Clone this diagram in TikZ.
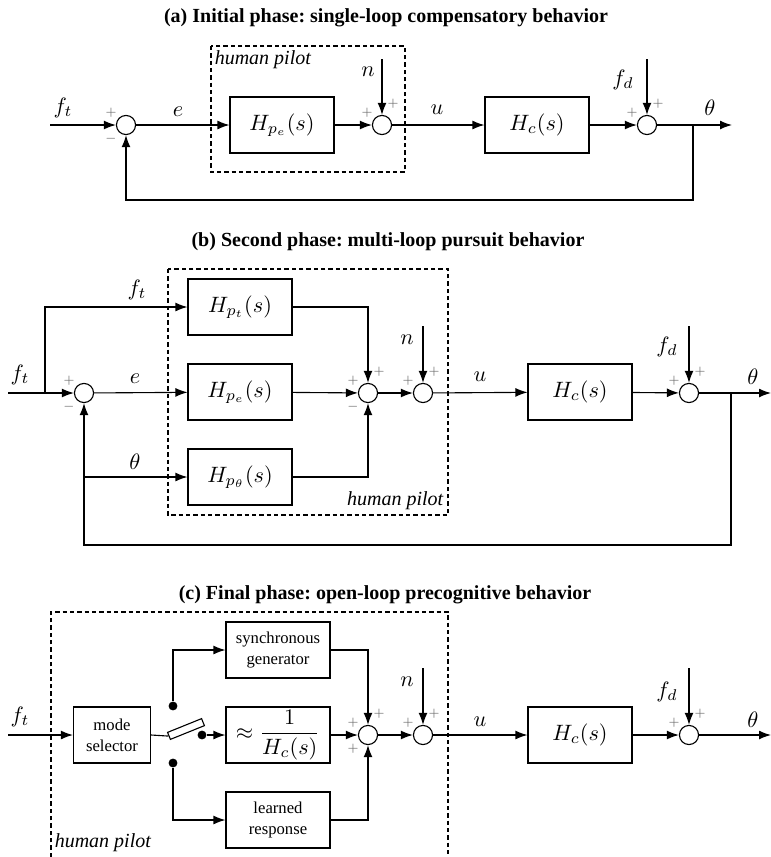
\documentclass[tikz,border=0pt]{standalone}
\usepackage{amsmath}
\usepackage{fontspec}
\newfontfamily\tnr{Liberation Serif}
\usetikzlibrary{arrows.meta,positioning,shapes}

\begin{document}
\begin{tikzpicture}[
    x=0.45pt, y=-0.45pt, line width=0.5pt,
    box/.style={rectangle, draw, minimum width=46.8pt, minimum height=25.2pt, inner sep=1pt, align=center},
    small/.style={font=\tnr\fontsize{7.5}{9.5}\selectfont},
    sum/.style={circle, draw, fill=white, minimum size=8.6pt, inner sep=0pt},
    dot/.style={circle, fill, minimum size=4pt, inner sep=0pt},
    arrow/.style={-{Latex[length=5.4pt,width=4pt]}},
    sgn/.style={font=\fontsize{4.5}{5}\selectfont, text=black!60, inner sep=0pt},
    pilot/.style={dash pattern=on 2pt off 1.3pt},
    pilottext/.style={font=\tnr\fontsize{9}{10}\selectfont\itshape, inner sep=1pt},
    title/.style={font=\tnr\bfseries\fontsize{9}{11}\selectfont\frenchspacing}
]
    \useasboundingbox (0,0) rectangle (771,857);

    % (a) single loop
    \node[title] (titleA) at (386,18) {(a) Initial phase: single-loop compensatory behavior};
    \draw[pilot] (211,46) rectangle (405,172);
    \node[pilottext, anchor=north west] (pilotA) at (212,48) {human pilot};

    \coordinate (inA) at (50,125);
    \node[sum] (sumA) at (126,125) {};
    \node[box] (hpeA) at (282,125) {$H_{p_e}(s)$};
    \node[sum] (nsumA) at (382,125) {};
    \node[box] (hcA) at (537,125) {$H_c(s)$};
    \node[sum] (fdsumA) at (647,125) {};
    \coordinate (brA) at (693,125);
    \coordinate (outA) at (732,125);
    \coordinate (nA) at (382,59);
    \coordinate (fdA) at (647,59);

    \draw[arrow] (inA) -- (sumA);
    \draw[arrow] (sumA) -- (hpeA);
    \draw[arrow] (hpeA) -- (nsumA);
    \draw[arrow] (nsumA) -- (hcA);
    \draw[arrow] (hcA) -- (fdsumA);
    \draw[arrow] (fdsumA) -- (outA);
    \draw[arrow] (nA) -- (nsumA);
    \draw[arrow] (fdA) -- (fdsumA);
    \draw[arrow] (brA) -- ++(0,75) -| (sumA.south);

    \node (ftA) at (63,108) {$f_t$};
    \node (eA) at (178,112) {$e$};
    \node (nlabA) at (368,72) {$n$};
    \node (uA) at (437,110) {$u$};
    \node (fdlabA) at (623,80) {$f_d$};
    \node (thA) at (710,108) {$\theta$};

    \node[sgn] at ([shift={(-15,-12)}]sumA) {$+$};
    \node[sgn] at ([shift={(-15,14)}]sumA) {$-$};
    \node[sgn] at ([shift={(-15,-12)}]nsumA) {$+$};
    \node[sgn] at ([shift={(11,-21)}]nsumA) {$+$};
    \node[sgn] at ([shift={(-15,-12)}]fdsumA) {$+$};
    \node[sgn] at ([shift={(11,-21)}]fdsumA) {$+$};

    % (b) multi loop
    \node[title] (titleB) at (388,242) {(b) Second phase: multi-loop pursuit behavior};
    \draw[pilot] (168,269) rectangle (448,515);
    \node[pilottext, anchor=south east] (pilotB) at (446,513) {human pilot};

    \coordinate (inB) at (8,393);
    \coordinate (ftbrB) at (45,393);
    \node[sum] (sumB) at (84,393) {};
    \node[box] (hptB) at (240,307) {$H_{p_t}(s)$};
    \node[box] (hpeB) at (240,392) {$H_{p_e}(s)$};
    \node[box] (hpthB) at (240,477) {$H_{p_\theta}(s)$};
    \node[sum] (msumB) at (368,393) {};
    \node[sum] (nsumB) at (423,393) {};
    \node[box] (hcB) at (580,392) {$H_c(s)$};
    \node[sum] (fdsumB) at (689,393) {};
    \coordinate (brB) at (731,393);
    \coordinate (outB) at (771,393);
    \coordinate (thbrB) at (84,477);
    \coordinate (nB) at (423,326);
    \coordinate (fdB) at (689,326);

    \draw[arrow] (inB) -- (sumB);
    \draw[arrow] (ftbrB) |- (hptB);
    \draw[arrow] (sumB) -- (hpeB);
    \draw[arrow] (thbrB) -- (hpthB);
    \draw[arrow] (hptB) -| (msumB.north);
    \draw[arrow] (hpeB) -- (msumB);
    \draw[arrow] (hpthB) -| (msumB.south);
    \draw[arrow] (msumB) -- (nsumB);
    \draw[arrow] (nsumB) -- (hcB);
    \draw[arrow] (hcB) -- (fdsumB);
    \draw[arrow] (fdsumB) -- (outB);
    \draw[arrow] (nB) -- (nsumB);
    \draw[arrow] (fdB) -- (fdsumB);
    \draw[arrow] (brB) -- ++(0,152) -| (sumB.south);

    \node (ftB) at (20,375) {$f_t$};
    \node (fttopB) at (137,290) {$f_t$};
    \node (eB) at (135,379) {$e$};
    \node (thlabB) at (135,462) {$\theta$};
    \node (nlabB) at (407,340) {$n$};
    \node (uB) at (480,377) {$u$};
    \node (fdlabB) at (667,347) {$f_d$};
    \node (thB) at (753,377) {$\theta$};

    \node[sgn] at ([shift={(-15,-12)}]sumB) {$+$};
    \node[sgn] at ([shift={(-15,14)}]sumB) {$-$};
    \node[sgn] at ([shift={(-15,-12)}]msumB) {$+$};
    \node[sgn] at ([shift={(11,-21)}]msumB) {$+$};
    \node[sgn] at ([shift={(-15,14)}]msumB) {$-$};
    \node[sgn] at ([shift={(-15,-12)}]nsumB) {$+$};
    \node[sgn] at ([shift={(11,-21)}]nsumB) {$+$};
    \node[sgn] at ([shift={(-15,-12)}]fdsumB) {$+$};
    \node[sgn] at ([shift={(11,-21)}]fdsumB) {$+$};

    % (c) open loop
    \node[title] (titleC) at (385,595) {(c) Final phase: open-loop precognitive behavior};
    \draw[pilot] (51,857) -- (51,612) -- (448,612) -- (448,857);
    \node[pilottext, anchor=west] (pilotC) at (52,843) {human pilot};

    \coordinate (inC) at (8,735);
    \node[box, small, minimum width=34.65pt] (modeC) at (112,735) {mode\\selector};
    \node[box, small] (syncC) at (278,650) {synchronous\\generator};
    \node[box] (invC) at (278,735) {$\approx\dfrac{1}{H_c(s)}$};
    \node[box, small] (learnC) at (278,820) {learned\\response};
    \node[sum] (sumC) at (368,735) {};
    \node[sum] (nsumC) at (423,735) {};
    \node[box] (hcC) at (580,735) {$H_c(s)$};
    \node[sum] (fdsumC) at (689,735) {};
    \coordinate (outC) at (771,735);
    \coordinate (nC) at (423,668);
    \coordinate (fdC) at (689,668);

    \node[draw, fill=white, rotate=22, minimum width=16.5pt, minimum height=3.4pt, inner sep=0pt] (lever) at (186,729) {};
    \node[dot] (dotT) at (173,706) {};
    \node[dot] (dotM) at (202,735) {};
    \node[dot] (dotB) at (173,763) {};

    \draw[arrow] (inC) -- (modeC);
    \draw (modeC.east) -- (lever.west);
    \draw[arrow] (dotT) |- (syncC);
    \draw[arrow] (dotM) -- (invC);
    \draw[arrow] (dotB) |- (learnC);
    \draw[arrow] (syncC) -| (sumC.north);
    \draw[arrow] (invC) -- (sumC);
    \draw[arrow] (learnC) -| (sumC.south);
    \draw[arrow] (sumC) -- (nsumC);
    \draw[arrow] (nsumC) -- (hcC);
    \draw[arrow] (hcC) -- (fdsumC);
    \draw[arrow] (fdsumC) -- (outC);
    \draw[arrow] (nC) -- (nsumC);
    \draw[arrow] (fdC) -- (fdsumC);

    \node (ftC) at (20,717) {$f_t$};
    \node (nlabC) at (407,682) {$n$};
    \node (uC) at (480,722) {$u$};
    \node (fdlabC) at (667,692) {$f_d$};
    \node (thC) at (753,720) {$\theta$};

    \node[sgn] at ([shift={(-15,-12)}]sumC) {$+$};
    \node[sgn] at ([shift={(11,-21)}]sumC) {$+$};
    \node[sgn] at ([shift={(-15,14)}]sumC) {$+$};
    \node[sgn] at ([shift={(-15,-12)}]nsumC) {$+$};
    \node[sgn] at ([shift={(11,-21)}]nsumC) {$+$};
    \node[sgn] at ([shift={(-15,-12)}]fdsumC) {$+$};
    \node[sgn] at ([shift={(11,-21)}]fdsumC) {$+$};
\end{tikzpicture}
\end{document}
